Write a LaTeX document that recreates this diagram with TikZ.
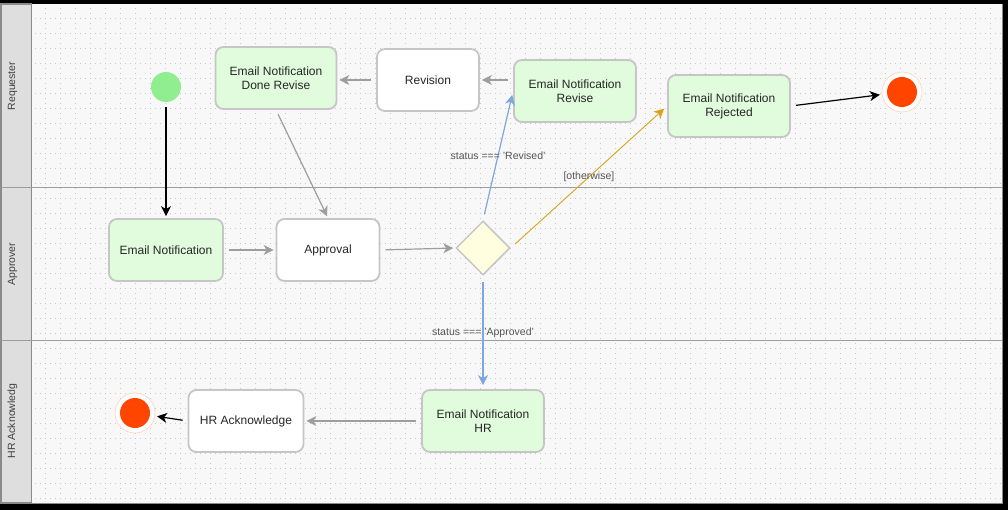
\documentclass[tikz,border=0pt]{standalone}
\usepackage{fontspec}
\setmainfont{Liberation Sans}
\usepackage{xcolor}
\usetikzlibrary{arrows.meta,shapes.geometric}
\definecolor{canvas}{HTML}{F8F8F8}
\definecolor{lanehead}{HTML}{DEDEDE}
\definecolor{laneline}{HTML}{8A8A8A}
\definecolor{griddot}{HTML}{C8C8C8}
\definecolor{boxline}{HTML}{C6C6C6}
\definecolor{noticefill}{HTML}{E0FCDC}
\definecolor{gatefill}{HTML}{FFFFE0}
\definecolor{startgreen}{HTML}{90EE90}
\definecolor{endred}{HTML}{FF4500}
\definecolor{flowgray}{HTML}{9E9E9E}
\definecolor{flowblue}{HTML}{7EA6E0}
\definecolor{floworange}{HTML}{D9A21B}
\definecolor{labgray}{HTML}{555555}

\begin{document}
\begin{tikzpicture}[x=1pt,y=-1pt,>={Stealth[length=10pt,width=10pt,inset=3pt]},
  task/.style={rectangle,rounded corners=8pt,draw=boxline,line width=1.8pt,fill=white,
    minimum height=62pt,align=center,font=\fontsize{12}{14}\selectfont,text=black!85},
  notice/.style={task,fill=noticefill},
  gate/.style={diamond,draw=boxline,line width=1.5pt,fill=gatefill,minimum width=54pt,
    minimum height=54pt,inner sep=0pt},
  startev/.style={circle,fill=startgreen,minimum size=30pt,inner sep=0pt},
  endev/.style={circle,draw=endred!25,fill=white,line width=0.6pt,minimum size=40pt,inner sep=0pt,
    path picture={\fill[endred] (path picture bounding box.center) circle (15pt);}},
  flow/.style={->,draw=flowgray,line width=1.2pt,shorten <=5pt,shorten >=2pt},
  blackflow/.style={->,draw=black,line width=1.2pt,shorten <=5pt,shorten >=2pt},
  yesflow/.style={->,draw=flowblue,line width=1.2pt,shorten <=6pt,shorten >=4pt},
  elseflow/.style={->,draw=floworange,line width=0.9pt,shorten <=6pt,shorten >=4pt},
  lab/.style={font=\fontsize{10.5}{12}\selectfont,text=labgray},
  lanelab/.style={rotate=90,font=\fontsize{10.5}{12}\selectfont,text=black!75},
  gridline/.style={griddot,line width=0.7pt,dash pattern=on 0.7pt off 4.3pt}]
\useasboundingbox (0,0) rectangle (1008,510);
\fill[black] (0,0) rectangle (1008,510);
\fill[canvas] (0,4) rectangle (1003,504);
\foreach \gx in {45,60,...,990} \draw[gridline] (\gx,8) -- (\gx,503);
\foreach \gy in {18,33,...,498} \draw[gridline] (35,\gy) -- (1001,\gy);
\draw[laneline,line width=1.5pt] (1002.5,4) -- (1002.5,503.5) -- (0,503.5);
\filldraw[fill=lanehead,draw=laneline,line width=1.5pt] (1,4) rectangle (31.5,503);
\draw[laneline!85,line width=1pt] (1,188) -- (1002,188);
\draw[laneline!85,line width=1pt] (1,340) -- (1002,340);
\node[lanelab] (reqlane) at (12.5,86) {Requester};
\node[lanelab] (applane) at (12.5,264) {Approver};
\node[lanelab] (hrlane) at (12.5,421) {HR Acknowledg};

\node[startev] (start) at (166,87) {};
\node[notice,minimum width=114pt] (notify) at (166,250) {Email Notification};
\node[task,minimum width=103pt] (approval) at (328,250) {Approval};
\node[gate] (check) at (483,248) {};
\node[notice,minimum width=122pt] (revise) at (575,91) {Email Notification\\Revise};
\node[task,minimum width=102pt] (revision) at (428,80) {Revision};
\node[notice,minimum width=121pt] (donerev) at (276,78) {Email Notification\\Done Revise};
\node[notice,minimum width=122pt] (rejected) at (729,106) {Email Notification\\Rejected};
\node[endev] (endtop) at (902,92) {};
\node[notice,minimum width=122pt] (notifyhr) at (483,421) {Email Notification\\HR};
\node[task,minimum width=115pt] (hrack) at (246,421) {HR Acknowledge};
\node[endev] (endlow) at (135,413) {};

\draw[blackflow] (start.south) -- (notify.north);
\draw[flow] (notify.east) -- (approval.west);
\draw[flow] (approval.east) -- (check.west);
\draw[yesflow] (check.north) -- node[lab]{status === 'Revised'} (revise.west);
\draw[elseflow] (check.east) -- node[lab,pos=0.5]{[otherwise]} (rejected.west);
\draw[yesflow] (check.south) -- node[lab,pos=0.5]{status === 'Approved'} (notifyhr.north);
\draw[flow] (revise.west |- revision.east) -- (revision.east);
\draw[flow] (revision.west) -- (donerev.east |- revision.west);
\draw[flow] (donerev.south) -- (approval.north);
\draw[blackflow] (rejected.east) -- (endtop);
\draw[flow] (notifyhr.west) -- (hrack.east);
\draw[blackflow] (hrack.west) -- (endlow);
\end{tikzpicture}
\end{document}
